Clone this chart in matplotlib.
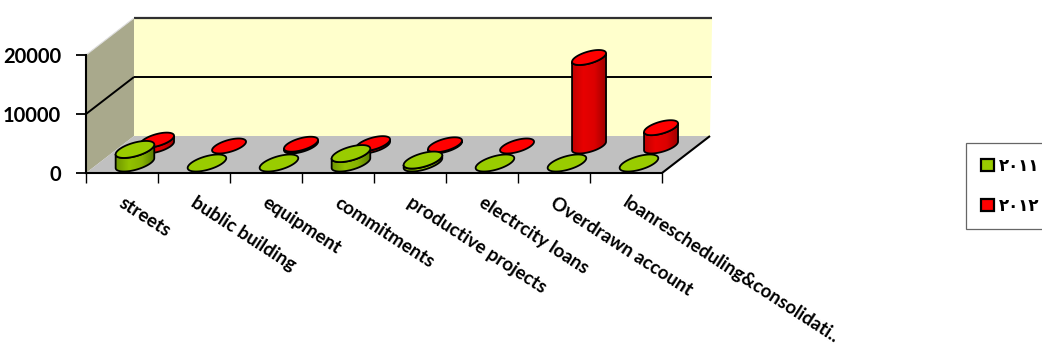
import numpy as np
import matplotlib
matplotlib.use("Agg")
import matplotlib.pyplot as plt
from matplotlib.patches import Polygon, Patch
from matplotlib.colors import LinearSegmentedColormap
from matplotlib.transforms import ScaledTranslation

# data
categories = ["streets", "bublic building", "equipment", "commitments",
              "productive projects", "electrcity loans", "Overdrawn account",
              "loanrescheduling&consolidati.."]
series_names = ["٢٠١١", "٢٠١٢"]
values_2011 = [2300, 0, 0, 1600, 500, 0, 0, 0]
values_2012 = [1000, 0, 300, 400, 200, 0, 15000, 3100]
y_ticks = [0, 10000, 20000]

W, H = 1042, 351
fig = plt.figure(figsize=(W / 100, H / 100), dpi=100)
fig.patch.set_facecolor("white")

# overlay for the fake 3d parts, in figure fraction coords
bg = fig.add_axes([0, 0, 1, 1], zorder=0)
bg.set_xlim(0, 1)
bg.set_ylim(0, 1)
bg.axis("off")

# front plane axes
ax = fig.add_axes([86 / W, (H - 173) / H, 576 / W, 118 / H], zorder=1)
ax.set_facecolor("none")
n = len(categories)
ax.set_xlim(0, n)
ax.set_ylim(0, 20000)
for s in ["top", "right"]:
    ax.spines[s].set_visible(False)
for s in ["left", "bottom"]:
    ax.spines[s].set_linewidth(1.5)

DEPTH = np.array([48.0, 37.0])  # pixel shift from front to back plane


def pt(x, v, d):
    p = ax.transData.transform((x, v)) + d * DEPTH
    return fig.transFigure.inverted().transform(p)


def poly(pts, **kw):
    p = Polygon(np.array(pts), closed=True, transform=bg.transAxes, **kw)
    bg.add_patch(p)
    return p


# walls and floor
poly([pt(0, 0, 0), pt(0, 20000, 0), pt(0, 20000, 1), pt(0, 0, 1)],
     facecolor="#A9A98C", edgecolor="none", zorder=1)
poly([pt(0, 0, 1), pt(n, 0, 1), pt(n + 0.03, 20000, 1), pt(0, 20000, 1)],
     facecolor="#FFFFCC", edgecolor="none", zorder=1)
poly([pt(0, 0, 0), pt(n, 0, 0), pt(n, 0, 1), pt(0, 0, 1)],
     facecolor="#C0C0C0", edgecolor="none", zorder=2)


def line(a, b, **kw):
    a, b = np.array(a), np.array(b)
    bg.plot([a[0], b[0]], [a[1], b[1]], transform=bg.transAxes,
            solid_capstyle="butt", **kw)


line(pt(0, 10000, 0), pt(0, 10000, 1), color="black", lw=1.4, zorder=3)
line(pt(0, 10000, 1), pt(n + 0.03, 10000, 1), color="black", lw=1.4, zorder=3)
line(pt(0, 20000, 1), pt(n + 0.03, 20000, 1), color="#303030", lw=1.6, zorder=3)
line(pt(0, 20000, 0), pt(0, 20000, 1), color="#DDDDDD", lw=0.8, zorder=3)
line(pt(n, 0, 0), pt(n, 0, 1), color="black", lw=1.5, zorder=3)

top_colors = ["#99CC00", "#FF0000"]
body_cmaps = [
    LinearSegmentedColormap.from_list("g", ["#6F9600", "#93C200", "#86B200", "#557800"]),
    LinearSegmentedColormap.from_list("r", ["#C00000", "#E80000", "#DC0000", "#A00000"]),
]
rows = [values_2011, values_2012]
row_depth = [0.27, 0.73]
row_scale = [1.0, 0.88]
grad = np.linspace(0, 1, 256).reshape(1, -1)

t = np.linspace(0, 2 * np.pi, 241)
z = 10
# back row first so the front row covers it
for r in [1, 0]:
    rx, rd = 0.22 * row_scale[r], 0.23 * row_scale[r]
    for i, v in enumerate(rows[r]):
        cx = i + 0.5
        base = np.array([pt(cx + rx * np.cos(a), 0, row_depth[r] + rd * np.sin(a)) for a in t])
        top = np.array([pt(cx + rx * np.cos(a), v, row_depth[r] + rd * np.sin(a)) for a in t])
        if v > 0:
            imin, imax = np.argmin(base[:, 0]), np.argmax(base[:, 0])
            # lower arc of the ellipse between the two silhouette points
            idx_a = np.arange(imin, imax + 1) if imin < imax else np.r_[imin:len(t), 0:imax + 1]
            idx_b = np.arange(imax, imin + 1) if imax < imin else np.r_[imax:len(t), 0:imin + 1]
            arc = idx_a if base[idx_a, 1].mean() < base[idx_b, 1].mean() else idx_b[::-1]
            body = np.vstack([base[arc], top[arc][::-1]])
            bp = poly(body, facecolor="none", edgecolor="black", lw=1.3, zorder=z + 1)
            x0, x1 = body[:, 0].min(), body[:, 0].max()
            y0, y1 = body[:, 1].min(), body[:, 1].max()
            im = bg.imshow(grad, extent=(x0, x1, y0, y1), aspect="auto",
                           cmap=body_cmaps[r], transform=bg.transAxes, zorder=z)
            im.set_clip_path(bp)
        poly(top, facecolor=top_colors[r], edgecolor="black", lw=1.3, zorder=z + 2)
        z += 3

bg.set_xlim(0, 1)
bg.set_ylim(0, 1)

# axis ticks and labels
font = ["Lato", "DejaVu Sans"]
ax.set_yticks(y_ticks)
ax.set_yticklabels([str(v) for v in y_ticks], fontsize=14.5, fontweight="bold", family=font)
ax.tick_params(axis="y", direction="out", length=7, width=1.3, pad=11)
ax.set_xticks(np.arange(n + 1))
ax.set_xticklabels([])
ax.tick_params(axis="x", which="major", direction="out", length=7, width=1.0)
ax.set_xticks(np.arange(n) + 0.5, minor=True)
ax.set_xticklabels(categories, minor=True, rotation=-33, ha="left", va="top",
                   rotation_mode="anchor", fontsize=13.5, fontweight="bold", family=font)
ax.tick_params(axis="x", which="minor", length=0, pad=15)
for lab in ax.get_xticklabels(minor=True):
    lab.set_transform(lab.get_transform() + ScaledTranslation(0.03, 0, fig.dpi_scale_trans))

# legend
handles = [Patch(facecolor=c, edgecolor="black", lw=1.6) for c in top_colors]
leg = fig.legend(handles, series_names, loc="upper left",
                 bbox_to_anchor=(966 / W, 1 - 143 / H), borderaxespad=0,
                 frameon=True, fancybox=False, edgecolor="#404040",
                 handlelength=0.75, handleheight=0.75, handletextpad=0.3,
                 labelspacing=1.45, borderpad=0.9,
                 prop={"family": font, "weight": "bold", "size": 12})
leg.get_frame().set_linewidth(0.9)

fig.savefig("out.png", dpi=100)
